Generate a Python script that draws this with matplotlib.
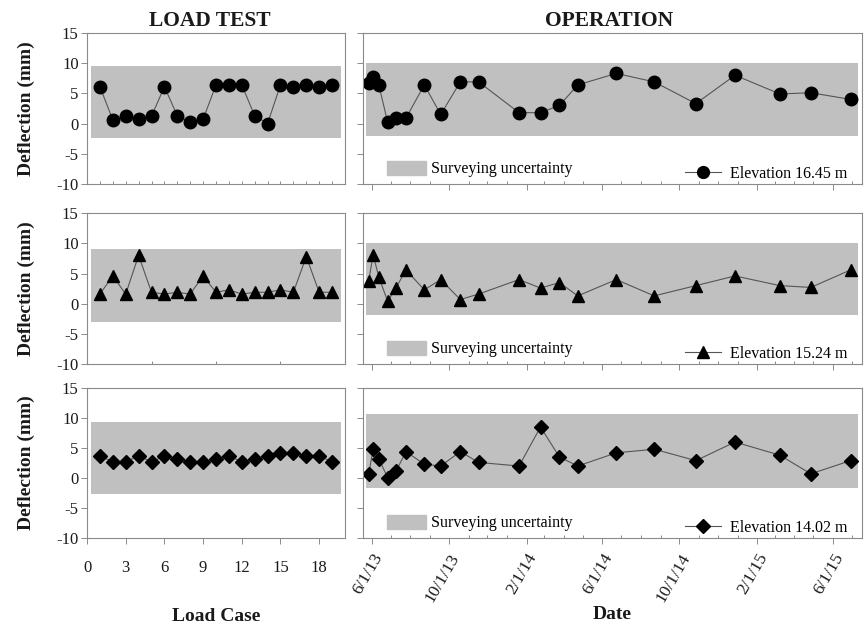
import numpy as np
import pandas as pd
import matplotlib
matplotlib.use("Agg")
import matplotlib.pyplot as plt
import matplotlib.dates as mdates
from matplotlib.patches import Patch
from matplotlib.lines import Line2D

plt.rcParams['font.family'] = ['Liberation Serif', 'DejaVu Serif']
plt.rcParams['axes.unicode_minus'] = False

# Load test: deflection per load case
load_case = [1, 2, 3, 4, 5, 6, 7, 8, 9, 10, 11, 12, 13, 14, 15, 16, 17, 18, 19]
load_1645 = [6.1, 0.6, 1.2, 0.7, 1.2, 6.1, 1.3, 0.2, 0.7, 6.4, 6.4, 6.4, 1.3, 0.0, 6.4, 6.1, 6.4, 6.1, 6.4]
load_1524 = [1.6, 4.6, 1.6, 8.0, 1.9, 1.6, 1.9, 1.6, 4.6, 1.9, 2.3, 1.6, 1.9, 1.9, 2.3, 1.9, 7.8, 1.9, 1.9]
load_1402 = [3.7, 2.7, 2.7, 3.7, 2.7, 3.7, 3.2, 2.7, 2.7, 3.2, 3.7, 2.7, 3.2, 3.7, 4.2, 4.2, 3.7, 3.7, 2.7]

# Operation: survey dates and deflections
survey_dates = ['2013-05-27', '2013-06-03', '2013-06-12', '2013-06-26', '2013-07-09',
                '2013-07-25', '2013-08-23', '2013-09-18', '2013-10-19', '2013-11-17',
                '2014-01-20', '2014-02-23', '2014-03-25', '2014-04-23', '2014-06-23',
                '2014-08-22', '2014-10-27', '2014-12-28', '2015-03-09', '2015-04-27',
                '2015-06-29']
op_1645 = [6.7, 7.7, 6.4, 0.2, 0.9, 0.9, 6.4, 1.5, 6.9, 6.9, 1.8, 1.8, 3.0, 6.4,
           8.3, 6.9, 3.3, 8.0, 4.9, 5.1, 4.0]
op_1524 = [3.8, 8.1, 4.4, 0.4, 2.6, 5.6, 2.3, 4.0, 0.7, 1.6, 4.0, 2.6, 3.5, 1.3,
           4.0, 1.3, 3.0, 4.6, 3.0, 2.7, 5.6]
op_1402 = [0.7, 4.8, 3.2, 0.05, 1.1, 4.4, 2.3, 2.0, 4.4, 2.6, 2.0, 8.5, 3.5, 2.0,
           4.2, 4.8, 2.9, 6.0, 3.8, 0.7, 2.9]

# Surveying uncertainty bands (lower, upper) for each panel
band_load = [(-2.4, 9.6), (-3.1, 9.1), (-2.7, 9.4)]
band_op = [(-2.1, 10.05), (-1.9, 10.05), (-1.7, 10.6)]

elevations = ['Elevation 16.45 m', 'Elevation 15.24 m', 'Elevation 14.02 m']
markers = ['o', '^', 'D']
msizes = [9, 8.5, 7.5]

dates = pd.to_datetime(survey_dates)
load_series = [load_1645, load_1524, load_1402]
op_series = [op_1645, op_1524, op_1402]

fig = plt.figure(figsize=(8.65, 6.3), dpi=100)

rows = [(0.708, 0.2397), (0.422, 0.2397), (0.146, 0.2381)]
band_col = '#c0c0c0'
line_col = '#555555'
spine_col = '#8a8a8a'
text_col = '#1a1a1a'

for i in range(3):
    y0, h = rows[i]
    axl = fig.add_axes([0.1006, y0, 0.2982, h])
    axr = fig.add_axes([0.4197, y0, 0.5768, h])

    # left: load test
    lo, hi = band_load[i]
    axl.fill_between([0.3, 19.7], lo, hi, color=band_col, lw=0, zorder=1)
    axl.plot(load_case, load_series[i], color=line_col, lw=0.8, zorder=2,
             marker=markers[i], ms=msizes[i], mfc='black', mec='black')
    axl.set_xlim(0, 20)

    # right: operation
    lo, hi = band_op[i]
    axr.fill_between(pd.to_datetime(['2013-05-22', '2015-07-10']), lo, hi,
                     color=band_col, lw=0, zorder=1)
    axr.plot(dates, op_series[i], color=line_col, lw=0.8, zorder=2,
             marker=markers[i], ms=msizes[i], mfc='black', mec='black')
    axr.set_xlim(pd.Timestamp('2013-05-18'), pd.Timestamp('2015-07-17'))

    for ax in (axl, axr):
        ax.set_ylim(-10, 15)
        ax.set_yticks([-10, -5, 0, 5, 10, 15])
        for s in ax.spines.values():
            s.set_color(spine_col)
            s.set_linewidth(0.8)
        ax.tick_params(axis='y', direction='out', length=4, width=0.7,
                       color=spine_col, labelsize=12, labelcolor=text_col, pad=2)

    axr.tick_params(axis='y', labelleft=False)
    axl.set_ylabel('Deflection (mm)', fontsize=14, fontweight='bold', color=text_col)
    axl.yaxis.set_label_coords(-0.20, 0.5)

    # date ticks: majors every 4 months, minors monthly
    axr.xaxis.set_major_locator(mdates.MonthLocator(bymonth=[2, 6, 10]))
    axr.xaxis.set_minor_locator(mdates.MonthLocator())
    axr.xaxis.set_major_formatter(mdates.DateFormatter('%-m/%-d/%y'))
    axr.tick_params(axis='x', which='major', direction='out', length=4, width=0.7,
                    color=spine_col)
    axr.tick_params(axis='x', which='minor', direction='in', length=2, width=0.7,
                    color=spine_col)

    # legend: band on the left, series on the right
    leg1 = axr.legend([Patch(color=band_col)], ['Surveying uncertainty'],
                      loc='lower left', bbox_to_anchor=(0.02, -0.05), frameon=False,
                      fontsize=11.5, handlelength=2.4, handleheight=1.0, handletextpad=0.35)
    axr.add_artist(leg1)
    axr.legend([Line2D([], [], color=line_col, lw=0.8, marker=markers[i],
                       ms=msizes[i] - 0.5, mfc='black', mec='black')],
               [elevations[i]], loc='lower right', bbox_to_anchor=(1.0, -0.08),
               frameon=False, fontsize=11.5, handlelength=2.25, handletextpad=0.6)

    if i < 2:
        axl.set_xticks(load_case if i == 0 else [5, 10, 15])
        axl.tick_params(axis='x', direction='in', length=2, width=0.7,
                        color=spine_col, labelbottom=False)
        axr.tick_params(axis='x', labelbottom=False)
    else:
        axl.set_xticks([0, 3, 6, 9, 12, 15, 18])
        axl.tick_params(axis='x', direction='out', length=4, width=0.7,
                        color=spine_col, labelsize=12, labelcolor=text_col, pad=12)
        axr.tick_params(axis='x', which='major', labelsize=12.5, labelcolor=text_col, pad=5)
        for lab in axr.get_xticklabels():
            lab.set_rotation(60)
            lab.set_ha('right')
            lab.set_va('top')
            lab.set_rotation_mode('anchor')

    if i == 0:
        axl.set_title('LOAD TEST', fontsize=15.5, fontweight='bold', color=text_col,
                      pad=5, x=0.477)
        axr.set_title('OPERATION', fontsize=15.5, fontweight='bold', color=text_col,
                      pad=5, x=0.493)

fig.text(0.25, 0.021, 'Load Case', fontsize=14, fontweight='bold', color=text_col,
         ha='center', va='center')
fig.text(0.708, 0.024, 'Date', fontsize=14, fontweight='bold', color=text_col,
         ha='center', va='center')

fig.savefig('out.png', dpi=100)
